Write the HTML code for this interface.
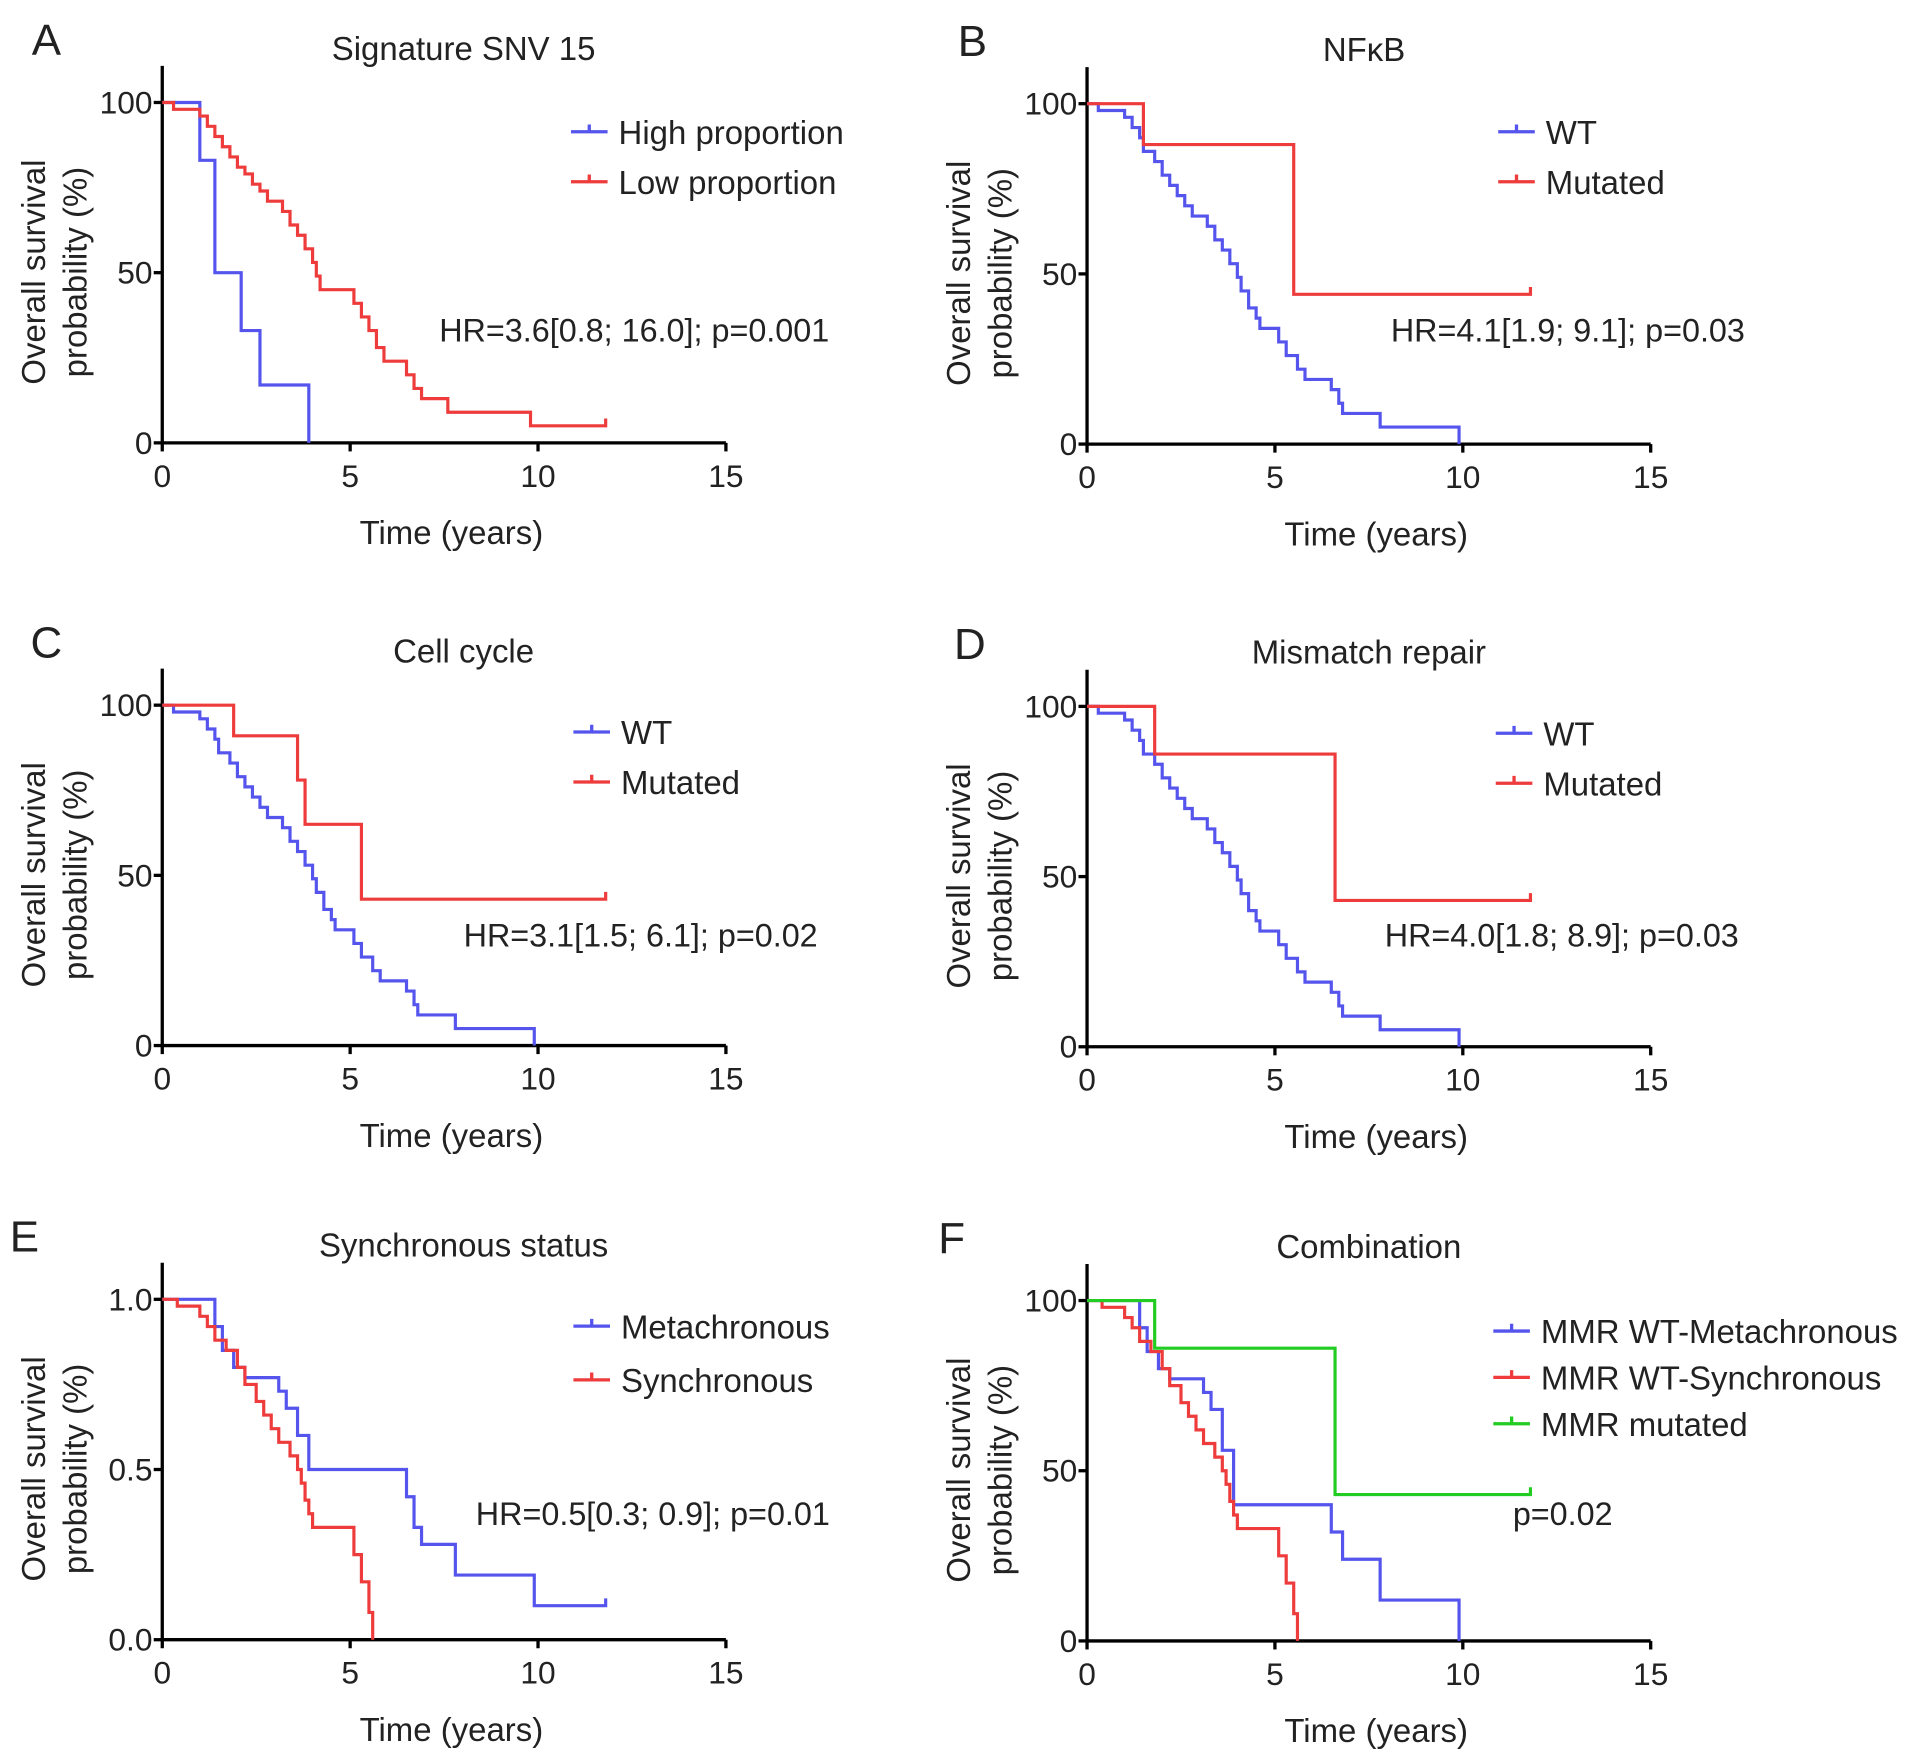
<!DOCTYPE html>
<html><head><meta charset="utf-8">
<style>
html,body{margin:0;padding:0;background:#fff;}
svg{display:block;}
text{font-family:"Liberation Sans",Arial,sans-serif;fill:#222;}
</style></head>
<body>
<svg id="fig" width="1913" height="1760" viewBox="0 0 1568 1442.6" preserveAspectRatio="none" xmlns="http://www.w3.org/2000/svg"></svg>
<script>
// ---- data (time in years, survival after drop) ----
const aHighT=[1.0,1.4,2.1,2.6,3.9];
const aHighS=[83,50,33,17,0];
const aLowT=[0.3,1.0,1.2,1.4,1.6,1.8,2.0,2.2,2.4,2.6,2.8,3.2,3.4,3.6,3.8,4.0,4.1,4.2,5.1,5.3,5.5,5.7,5.9,6.5,6.7,6.9,7.6,9.8];
const aLowS=[98,96,93,90,87,84,81,79,76,74,71,68,64,61,57,53,49,45,41,37,33,28,24,20,16,13,9,5];
const wtT=[0.3,1.0,1.2,1.4,1.5,1.8,2.0,2.2,2.4,2.6,2.8,3.2,3.4,3.6,3.8,4.0,4.1,4.3,4.5,4.6,5.1,5.3,5.6,5.8,6.5,6.7,6.8,7.8,9.9];
const wtS=[98,96,93,90,86,83,79,76,73,70,67,64,60,57,53,49,45,40,37,34,30,26,22,19,16,12,9,5,0];
const bMutT=[1.5,5.5];
const bMutS=[88,44];
const cMutT=[1.9,3.6,3.8,5.3];
const cMutS=[91,78,65,43];
const dMutT=[1.8,6.6];
const dMutS=[86,43];
const eMetT=[1.4,1.6,1.9,2.2,3.1,3.3,3.6,3.9,6.5,6.7,6.9,7.8,9.9];
const eMetS=[0.92,0.85,0.80,0.77,0.73,0.68,0.60,0.50,0.42,0.33,0.28,0.19,0.10];
const eSynT=[0.4,1.0,1.2,1.4,1.7,2.0,2.2,2.5,2.7,2.9,3.1,3.4,3.6,3.7,3.8,3.9,4.0,5.1,5.3,5.5,5.6];
const eSynS=[0.98,0.95,0.92,0.88,0.85,0.80,0.75,0.70,0.66,0.62,0.58,0.54,0.50,0.46,0.41,0.37,0.33,0.25,0.17,0.08,0.0];
const fMetT=[1.4,1.6,1.9,2.2,3.1,3.3,3.6,3.9,6.5,6.8,7.8,9.9];
const fMetS=[92,85,80,77,73,68,56,40,32,24,12,0];
const xTicks=[0,5,10,15];
const yTicksPct=[0,50,100];
const yTickLabelsE=["0.0","0.5","1.0"];

const NS="http://www.w3.org/2000/svg";
const svg=document.getElementById('fig');
const BLUE="#5555ee",RED="#ee3b3b",GREEN="#22cc22";
function el(tag,attrs,parent){const e=document.createElementNS(NS,tag);for(const k in attrs)e.setAttribute(k,attrs[k]);(parent||svg).appendChild(e);return e;}
function txt(s,x,y,size,anchor,parent){const t=el('text',{x:x,y:y,'font-size':size,'text-anchor':anchor||'start'},parent);t.textContent=s;return t;}

function panel(cfg){
  const g=el('g',{});
  
  
  const x0=cfg.x0,x1=cfg.x0+462,yb=cfg.yb,yt=cfg.yb-279;
  const sx=t=>x0+t/15*(x1-x0);
  const sy=v=>yb-v/cfg.ymax*(yb-yt);
  const ax=el('path',{d:`M${x0},${yt-30}V${yb}H${x1}`,stroke:'#000','stroke-width':2.7,fill:'none'},g);
  
  
  xTicks.forEach(v=>{el('line',{x1:sx(v),x2:sx(v),y1:yb,y2:yb+7,stroke:'#000','stroke-width':2.7},g);
    const t=txt(String(v),sx(v),yb+36,26,'middle',g);
    
    });
  yTicksPct.forEach((v,i)=>{const vv=v/100*cfg.ymax;el('line',{x1:x0-7,x2:x0,y1:sy(vv),y2:sy(vv),stroke:'#000','stroke-width':2.7},g);
    const t=txt(cfg.ylabels?cfg.ylabels[i]:String(v),x0-8,sy(vv)+9,26,'end',g);
    
    });
  const tt=txt(cfg.title,x0+cfg.tOff,cfg.yb-314,27,'middle',g);
  
  
  const lt=txt(cfg.letter,cfg.lx,cfg.yb-318,36,'middle',g);
  
  
  const xl=txt('Time (years)',x0+237,yb+83,27,'middle',g);
  
  
  const cy=yb-140,lx=x0-105;
  const y1=txt('Overall survival',0,0,27,'middle',g);y1.setAttribute('transform',`translate(${lx+9},${cy}) rotate(-90)`);
  
  
  const y2=txt('probability (%)',0,0,27,'middle',g);y2.setAttribute('transform',`translate(${lx+43},${cy}) rotate(-90)`);
  
  
  cfg.series.forEach((s,i)=>{
    let d=`M${sx(0)},${sy(cfg.ymax)}`;let cur=cfg.ymax;
    s.t.forEach((t,j)=>{d+=`H${sx(t)}V${sy(s.s[j])}`;cur=s.s[j];});
    if(s.end!==undefined) d+=`H${sx(s.end)}V${sy(cur)-6}`;
    const p=el('path',{d:d,stroke:s.c,'stroke-width':2.6,fill:'none'},g);
    
    
    const ly=cfg.legY+i*cfg.legGap;
    const ll=el('path',{d:`M${cfg.legX},${ly}h30M${cfg.legX+15},${ly}v-6`,stroke:s.c,'stroke-width':2.7,fill:'none'},g);
    
    
    const lt2=txt(s.label,cfg.legX+39,ly+10,27,'start',g);
    
    
  });
  const hr=txt(cfg.hr,cfg.hrX,cfg.hrY,26.5,'start',g);
  
  
}
const L=133,R=891;
panel({letter:'A',lx:38,x0:L,tOff:247,yb:363,ymax:100,title:'Signature SNV 15',legX:468,legY:108,legGap:41,hr:'HR=3.6[0.8; 16.0]; p=0.001',hrX:360,hrY:280,
  series:[{t:aHighT,s:aHighS,c:BLUE,label:'High proportion',name:'high'},{t:aLowT,s:aLowS,c:RED,label:'Low proportion',name:'low',end:11.8}]});
panel({letter:'B',lx:797,x0:R,tOff:227,yb:364,ymax:100,title:'NFκB',legX:1228,legY:108,legGap:41,hr:'HR=4.1[1.9; 9.1]; p=0.03',hrX:1140,hrY:280,
  series:[{t:wtT,s:wtS,c:BLUE,label:'WT',name:'wt'},{t:bMutT,s:bMutS,c:RED,label:'Mutated',name:'mutated',end:11.8}]});
panel({letter:'C',lx:38,x0:L,tOff:247,yb:857,ymax:100,title:'Cell cycle',legX:470,legY:600,legGap:41,hr:'HR=3.1[1.5; 6.1]; p=0.02',hrX:380,hrY:776,
  series:[{t:wtT,s:wtS,c:BLUE,label:'WT',name:'wt'},{t:cMutT,s:cMutS,c:RED,label:'Mutated',name:'mutated',end:11.8}]});
panel({letter:'D',lx:795,x0:R,tOff:231,yb:858,ymax:100,title:'Mismatch repair',legX:1226,legY:601,legGap:41,hr:'HR=4.0[1.8; 8.9]; p=0.03',hrX:1135,hrY:776,
  series:[{t:wtT,s:wtS,c:BLUE,label:'WT',name:'wt'},{t:dMutT,s:dMutS,c:RED,label:'Mutated',name:'mutated',end:11.8}]});
panel({letter:'E',lx:20,x0:L,tOff:247,yb:1344,ymax:1,ylabels:yTickLabelsE,title:'Synchronous status',legX:470,legY:1087,legGap:44,hr:'HR=0.5[0.3; 0.9]; p=0.01',hrX:390,hrY:1250,
  series:[{t:eMetT,s:eMetS,c:BLUE,label:'Metachronous',name:'metachronous',end:11.8},{t:eSynT,s:eSynS,c:RED,label:'Synchronous',name:'synchronous'}]});
panel({letter:'F',lx:780,x0:R,tOff:231,yb:1345,ymax:100,title:'Combination',legX:1224,legY:1091,legGap:38,hr:'p=0.02',hrX:1240,hrY:1250,
  series:[{t:fMetT,s:fMetS,c:BLUE,label:'MMR WT-Metachronous',name:'mmr-wt-meta'},{t:eSynT,s:eSynS.map(v=>v*100),c:RED,label:'MMR WT-Synchronous',name:'mmr-wt-sync'},{t:dMutT,s:dMutS,c:GREEN,label:'MMR mutated',name:'mmr-mutated',end:11.8}]});
</script>
</body></html>
